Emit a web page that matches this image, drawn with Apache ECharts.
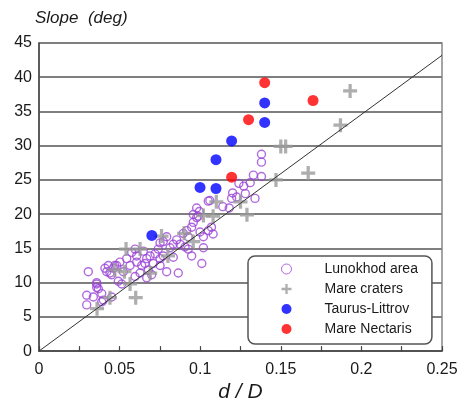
<!DOCTYPE html>
<html lang="en">
<head>
    <meta charset="UTF-8">
    <title>Slope vs d/D</title>
    <script src="https://cdn.jsdelivr.net/npm/echarts@6/dist/echarts.min.js"></script>
    <style>
        html, body { margin: 0; padding: 0; background: #fff; }
        #main { width: 461px; height: 408px; }
    </style>
</head>
<body>
<div id="main"></div>
<script>
    // x = d/D, y = slope (deg)
    var lunokhod = [
        [0.1201,23.1],[0.105,21.9],[0.0978,20.9],[0.0995,20.4],[0.0957,19.95],[0.0978,19.5],[0.118,20.9],
        [0.107,18.1],[0.108,17.1],[0.105,17.6],[0.102,16.7],[0.0999,17.4],[0.0957,18.8],[0.0947,18.1],
        [0.0916,17.6],[0.0895,17.2],[0.0926,16.7],[0.0854,16.25],[0.0833,15.6],[0.0875,15.6],[0.0906,15.2],
        [0.0926,14.9],[0.0947,13.9],[0.102,15.1],[0.101,12.8],[0.0864,11.4],[0.0833,13.7],[0.0771,13.9],
        [0.0792,11.6],[0.0751,13.5],[0.072,14.2],[0.0689,13.9],[0.0709,12.8],[0.0668,13.5],[0.0658,12.8],
        [0.0678,11.85],[0.0637,12.5],[0.0606,13.9],[0.0596,14.9],[0.0575,14.4],[0.0606,13.0],[0.0544,13.5],
        [0.0565,12.5],[0.0523,11.6],[0.0502,13.0],[0.0482,12.5],[0.0461,12.1],[0.044,11.4],[0.042,11.6],
        [0.0409,12.1],[0.043,12.5],[0.0306,11.6],[0.0358,9.8],[0.0368,9.1],[0.0389,8.4],[0.0296,8.15],
        [0.0337,7.9],[0.0399,7.45],[0.0451,7.9],[0.0492,10.2],[0.0513,9.8],[0.0627,11.4],[0.0596,10.9],
        [0.0751,15.8],[0.0792,16.7],[0.0771,16.0],[0.0813,15.1],[0.074,14.9],[0.0647,14.6],[0.0751,12.5],
        [0.0699,11.15],[0.0668,10.7],
        [0.138,28.75],[0.138,27.6],[0.133,25.7],[0.138,25.5],[0.131,24.6],[0.127,24.1],[0.134,22.3],
        [0.1195,22.3],[0.106,22.0],[0.114,21.1],[0.124,24.5],[0.128,23.0],[0.1226,22.5],[0.0988,19.7],
        [0.045,11.15],[0.0358,10.0],[0.0358,9.3],[0.0296,6.75],[0.0389,7.2],[0.047,12.5]
    ];
    var mareCraters = [
        [0.036,6.2],[0.044,7.8],[0.060,7.8],[0.0565,9.8],[0.047,11.85],[0.053,11.6],[0.054,14.9],
        [0.0627,14.9],[0.076,16.8],[0.080,13.9],[0.090,17.2],[0.0957,16.0],[0.102,19.8],[0.108,19.7],
        [0.110,21.8],[0.125,21.8],[0.129,19.9],[0.147,25.0],[0.150,29.9],[0.153,29.9],[0.167,26.0],
        [0.187,33.0],[0.193,38.0],[0.069,11.4]
    ];
    var taurusLittrov = [
        [0.070,16.9],[0.0999,23.9],[0.1098,23.75],[0.1098,27.96],[0.1195,30.7],[0.140,33.4],[0.140,36.25]
    ];
    var mareNectaris = [
        [0.1195,25.4],[0.130,33.8],[0.140,39.2],[0.170,36.6]
    ];
    var fitLine = [[0, 0], [0.25, 43.2]];
    var xTicks = ['0', '0.05', '0.1', '0.15', '0.2', '0.25'];

    var font = 'Liberation Sans, Arial, sans-serif';
    var crossPath = 'path://M5,0H8V5H13V8H8V13H5V8H0V5H5Z';

    var chart = echarts.init(document.getElementById('main'));
    var option = {
        animation: false,
        title: {
            text: 'Slope  (deg)',
            left: 30, top: 5,
            textStyle: { fontFamily: font, fontStyle: 'italic', fontWeight: 'normal', fontSize: 17, color: '#1a1a1a' }
        },
        grid: {
            left: 39, right: 19, top: 43, bottom: 41,
            show: true, borderColor: '#888', borderWidth: 1.5
        },
        legend: {
            orient: 'vertical',
            left: 248, top: 256,
            padding: [6, 14, 8, 33],
            itemWidth: 66, itemHeight: 10, itemGap: 6,
            backgroundColor: '#fff',
            borderColor: '#555', borderWidth: 1.5, borderRadius: 7,
            textStyle: { fontFamily: font, fontSize: 14, color: '#1a1a1a' },
            data: [
                { name: 'Lunokhod area', itemStyle: { borderWidth: 1 } },
                'Mare craters', 'Taurus-Littrov', 'Mare Nectaris'
            ]
        },
        xAxis: {
            type: 'value', min: 0, max: 0.25, interval: 0.05,
            name: 'd / D', nameLocation: 'middle', nameGap: 22,
            nameTextStyle: { fontFamily: font, fontStyle: 'italic', fontSize: 21, color: '#1a1a1a' },
            axisLine: { lineStyle: { color: '#444', width: 1.5 } },
            axisTick: { inside: true, length: 5, lineStyle: { color: '#444', width: 1.2 } },
            minorTick: { show: true, splitNumber: 2, length: 5, lineStyle: { color: '#444', width: 1.2 } },
            splitLine: { show: false },
            axisLabel: {
                margin: 10, fontFamily: font, fontSize: 16, color: '#1a1a1a',
                formatter: function (v) { return xTicks[Math.round(v / 0.05)]; }
            }
        },
        yAxis: {
            type: 'value', min: 0, max: 45, interval: 5,
            axisLine: { show: true, lineStyle: { color: '#444', width: 1.5 } },
            axisTick: { show: false },
            splitLine: { lineStyle: { color: '#7f7f7f', width: 1.8 } },
            axisLabel: { margin: 7, fontFamily: font, fontSize: 16, color: '#1a1a1a' }
        },
        series: [
            {
                name: 'Lunokhod area', type: 'scatter', data: lunokhod,
                symbol: 'circle', symbolSize: 8,
                itemStyle: { color: 'rgba(255,255,255,0)', borderColor: '#9b45d6', borderWidth: 1.4 }
            },
            {
                name: 'Mare craters', type: 'scatter', data: mareCraters,
                symbol: crossPath, symbolSize: 14,
                itemStyle: { color: '#9a9a9a' }
            },
            {
                name: 'fit', type: 'line', data: fitLine, showSymbol: false, silent: true,
                lineStyle: { color: '#333', width: 1 }, z: 3
            },
            {
                name: 'Taurus-Littrov', type: 'scatter', data: taurusLittrov,
                symbol: 'circle', symbolSize: 11, z: 4,
                itemStyle: { color: '#0000ff' }
            },
            {
                name: 'Mare Nectaris', type: 'scatter', data: mareNectaris,
                symbol: 'circle', symbolSize: 11, z: 4,
                itemStyle: { color: '#ff0000' }
            }
        ]
    };
    chart.setOption(option);
</script>
</body>
</html>
